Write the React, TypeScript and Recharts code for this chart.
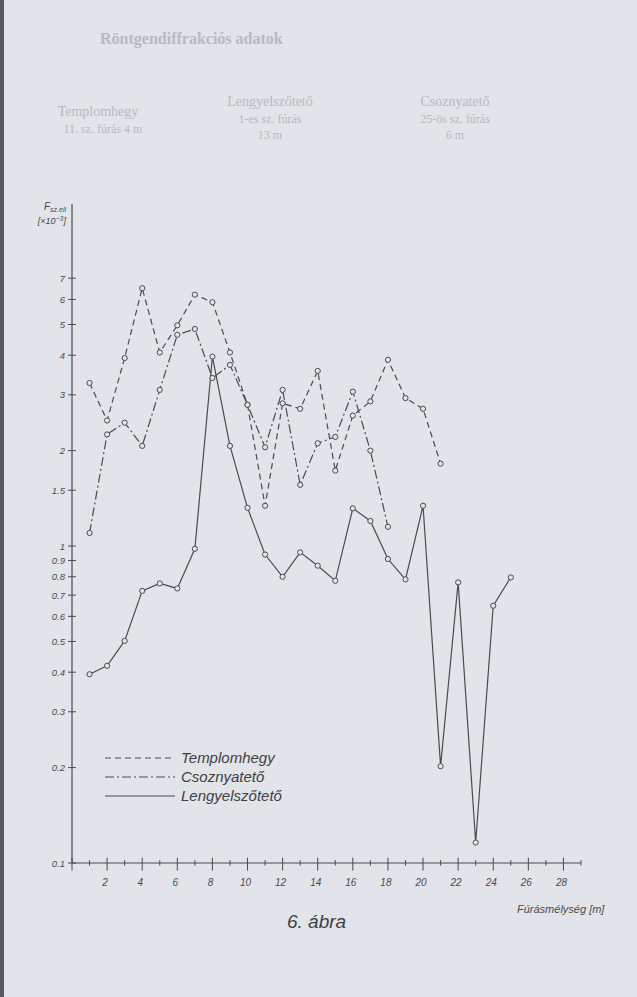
import React from 'react';
import { LineChart, Line, XAxis, YAxis } from 'recharts';

// depth of the samples, metres
const depths = [1, 2, 3, 4, 5, 6, 7, 8, 9, 10, 11, 12, 13, 14, 15, 16, 17, 18, 19, 20, 21, 22, 23, 24, 25];

// F sz.ell (x 10^-3) per borehole
const templomhegy = [3.27, 2.49, 3.92, 6.51, 4.08, 4.97, 6.21, 5.88, 4.08, 2.79, 1.34, 2.82, 2.71, 3.57, 1.73, 2.58, 2.86, 3.87, 2.93, 2.71, 1.82];
const csoznyateto = [1.1, 2.25, 2.45, 2.07, 3.11, 4.64, 4.84, 3.39, 3.73, 2.79, 2.05, 3.11, 1.56, 2.11, 2.21, 3.07, 2.0, 1.15];
const lengyelszoteto = [0.394, 0.419, 0.502, 0.722, 0.762, 0.735, 0.98, 3.96, 2.07, 1.32, 0.94, 0.8, 0.955, 0.867, 0.777, 1.315, 1.2, 0.91, 0.785, 1.34, 0.202, 0.768, 0.116, 0.648, 0.796];

const yTicks = [0.1, 0.2, 0.3, 0.4, 0.5, 0.6, 0.7, 0.8, 0.9, 1, 1.5, 2, 3, 4, 5, 6, 7];
const xTicks = [0, 1, 2, 3, 4, 5, 6, 7, 8, 9, 10, 11, 12, 13, 14, 15, 16, 17, 18, 19, 20, 21, 22, 23, 24, 25, 26, 27, 28, 29];

const BG = '#e1e4e9';
const INK = '#4a4b50';
const FAINT = '#b6bac3';
const FONT = "'Liberation Sans', 'DejaVu Sans', sans-serif";
const SERIF = "'Liberation Serif', 'DejaVu Serif', serif";

const W = 637;
const H = 997;
const AXIS_X = 72;
const AXIS_Y = 862.6;

const data = depths.map((d, i) => ({
  depth: d,
  templom: templomhegy[i],
  csoz: csoznyateto[i],
  lengyel: lengyelszoteto[i],
}));

function HollowDot(props: any) {
  const { cx, cy, index, value } = props;
  if (cx == null || cy == null || value == null) return <g key={index} />;
  return <circle key={index} cx={cx} cy={cy} r={2.6} fill={BG} stroke={INK} strokeWidth={1} />;
}

function YTick({ y, payload }: any) {
  return (
    <g>
      <line x1={AXIS_X - 4} x2={AXIS_X + 4} y1={y} y2={y} stroke={INK} strokeWidth={1} />
      <text
        x={AXIS_X - 7}
        y={y + 3.5}
        textAnchor="end"
        fontSize={9.5}
        fontStyle="italic"
        fill={INK}
        fontFamily={FONT}
      >
        {String(payload.value)}
      </text>
    </g>
  );
}

function XTick({ x, payload }: any) {
  const v = payload.value as number;
  const major = v % 2 === 0;
  return (
    <g>
      <line
        x1={x}
        x2={x}
        y1={major ? AXIS_Y - 5 : AXIS_Y - 2.5}
        y2={major ? AXIS_Y + 8 : AXIS_Y + 3}
        stroke={INK}
        strokeWidth={1}
      />
      {major && v > 0 && (
        <text x={x - 2} y={AXIS_Y + 23} textAnchor="middle" fontSize={10} fontStyle="italic" fill={INK} fontFamily={FONT}>
          {v}
        </text>
      )}
    </g>
  );
}

const legend = [
  { name: 'Templomhegy', dash: '6 4', y: 758 },
  { name: 'Csoznyatető', dash: '9 3 2 3', y: 777 },
  { name: 'Lengyelszőtető', dash: '', y: 796 },
];

export default function App() {
  return (
    <div style={{ position: 'absolute', left: 0, top: 0, width: W, height: H, background: BG, overflow: 'hidden' }}>
      <div style={{ position: 'absolute', left: 0, top: 0, width: 4, height: H, background: '#55585e' }} />
      <LineChart
        width={W}
        height={H}
        data={data}
        margin={{ top: 204, right: 56, bottom: 104, left: 12 }}
      >
        <XAxis
          dataKey="depth"
          type="number"
          domain={[0, 29]}
          ticks={xTicks}
          interval={0}
          tick={<XTick />}
          tickLine={false}
          axisLine={{ stroke: INK, strokeWidth: 1.2 }}
          height={30}
        />
        <YAxis
          scale="log"
          domain={[0.1, 12]}
          allowDataOverflow
          ticks={yTicks}
          interval={0}
          tick={<YTick />}
          tickLine={false}
          axisLine={{ stroke: INK, strokeWidth: 1.2 }}
          width={60}
        />
        <Line
          dataKey="templom"
          stroke={INK}
          strokeWidth={1.2}
          strokeDasharray="6 4"
          dot={HollowDot}
          activeDot={false}
          isAnimationActive={false}
        />
        <Line
          dataKey="csoz"
          stroke={INK}
          strokeWidth={1.2}
          strokeDasharray="9 3 2 3"
          dot={HollowDot}
          activeDot={false}
          isAnimationActive={false}
        />
        <Line
          dataKey="lengyel"
          stroke={INK}
          strokeWidth={1.2}
          dot={HollowDot}
          activeDot={false}
          isAnimationActive={false}
        />
      </LineChart>

      <svg width={W} height={H} style={{ position: 'absolute', left: 0, top: 0, pointerEvents: 'none' }}>
        {/* page text showing through from the other side */}
        <g fill={FAINT} fontFamily={SERIF}>
          <text x={100} y={44} fontSize={16} fontWeight="bold">Röntgendiffrakciós adatok</text>
          <text x={98} y={116} fontSize={14} textAnchor="middle">Templomhegy</text>
          <text x={103} y={133} fontSize={12} textAnchor="middle">11. sz. fúrás 4 m</text>
          <text x={270} y={106} fontSize={14} textAnchor="middle">Lengyelszőtető</text>
          <text x={270} y={123} fontSize={12} textAnchor="middle">1-es sz. fúrás</text>
          <text x={270} y={139} fontSize={12} textAnchor="middle">13 m</text>
          <text x={455} y={106} fontSize={14} textAnchor="middle">Csoznyatető</text>
          <text x={455} y={123} fontSize={12} textAnchor="middle">25-ös sz. fúrás</text>
          <text x={455} y={139} fontSize={12} textAnchor="middle">6 m</text>
        </g>

        {/* y axis title */}
        <text x={66} y={210} textAnchor="end" fontSize={10} fontStyle="italic" fill={INK} fontFamily={FONT}>
          F<tspan fontSize={7} dy={2}>sz.ell</tspan>
        </text>
        <text x={66} y={224} textAnchor="end" fontSize={9} fontStyle="italic" fill={INK} fontFamily={FONT}>
          [×10<tspan fontSize={7} dy={-3}>−3</tspan><tspan dy={3}>]</tspan>
        </text>

        {/* legend */}
        {legend.map((l) => (
          <g key={l.name}>
            <line x1={105} x2={175} y1={l.y} y2={l.y} stroke={INK} strokeWidth={1.2} strokeDasharray={l.dash || undefined} />
            <text x={181} y={l.y + 5} fontSize={15} fontStyle="italic" fill="#3e3f44" fontFamily={FONT}>
              {l.name}
            </text>
          </g>
        ))}

        {/* x axis title and caption */}
        <text x={517} y={913} fontSize={11} fontStyle="italic" fill={INK} fontFamily={FONT}>
          Fúrásmélység [m]
        </text>
        <text x={287} y={928} fontSize={19} fontStyle="italic" fill="#3e3f44" fontFamily={FONT}>
          6. ábra
        </text>
      </svg>
    </div>
  );
}
